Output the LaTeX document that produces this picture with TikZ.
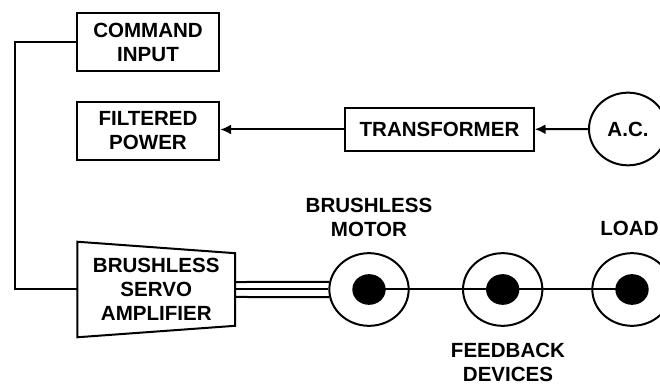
\documentclass[tikz,border=0pt]{standalone}
\usepackage{fontspec}
\setmainfont{Liberation Sans}
\usetikzlibrary{arrows.meta,positioning,shapes.geometric}
\tikzset{
  label text/.style={font=\fontsize{15.4}{18}\selectfont\bfseries,align=center},
  blockbox/.style={draw,line width=1.5pt,label text,inner sep=0pt,minimum height=43.5pt,minimum width=107pt},
  wheel/.style={draw,ellipse,line width=1.5pt,minimum width=59.5pt,minimum height=54.5pt,inner sep=0pt},
  hub/.style={fill=black,ellipse,minimum width=25pt,minimum height=23pt,inner sep=0pt},
  link/.style={line width=1.5pt}
}
\begin{document}
\begin{tikzpicture}[>={Latex[length=8pt,width=7.5pt]},x=.75pt,y=-.75pt]
  \clip (0,0) rectangle (660,384);
  \node[blockbox] (cmd) at (148,42) {COMMAND\\INPUT};
  \node[blockbox,below=21.75pt of cmd] (filt) {FILTERED\\POWER};
  \node[blockbox,minimum width=141.5pt,minimum height=32pt] (xfmr) at (439.5,129.5) {TRANSFORMER};
  \node[wheel,label text,minimum width=58.5pt] (ac) at (628,129) {A.C.};

  \node[label text,inner sep=0pt,minimum width=118pt,minimum height=71.25pt] (amp) at (156.25,289.5)
    {BRUSHLESS\\SERVO\\AMPLIFIER};
  \draw[link] (amp.north west) -- ([yshift=-8.6pt]amp.north east) -- ([yshift=8.6pt]amp.south east)
    -- (amp.south west) -- cycle;

  \node[wheel] (motor) at (369,289.5) {};
  \node[wheel] (fdbk) at (502.7,289.5) {};
  \node[wheel] (load) at (632,289.5) {};
  \node[hub] (motorhub) at (motor.center) {};
  \node[hub] (fdbkhub) at (fdbk.center) {};
  \node[hub] (loadhub) at (load.center) {};

  \node[label text] (motorlbl) at (369,217) {BRUSHLESS\\MOTOR};
  \node[label text] (fdbklbl) at (508,362.5) {FEEDBACK\\DEVICES};
  \node[label text] (loadlbl) at (629.5,228) {LOAD};

  \draw[->,link] (ac) -- (xfmr);
  \draw[->,link] (xfmr) -- (filt.east |- xfmr.west);
  \draw[link] (cmd.west) -- (14.7,42) |- (amp.west);
  \draw[link] (amp.east) -- (motor.west);
  \draw[link] ([yshift=5.6pt]amp.east) -- (motor.169);
  \draw[link] ([yshift=-5.6pt]amp.east) -- (motor.191);
  \draw[link] (motorhub.center) -- (loadhub.center);
\end{tikzpicture}
\end{document}
